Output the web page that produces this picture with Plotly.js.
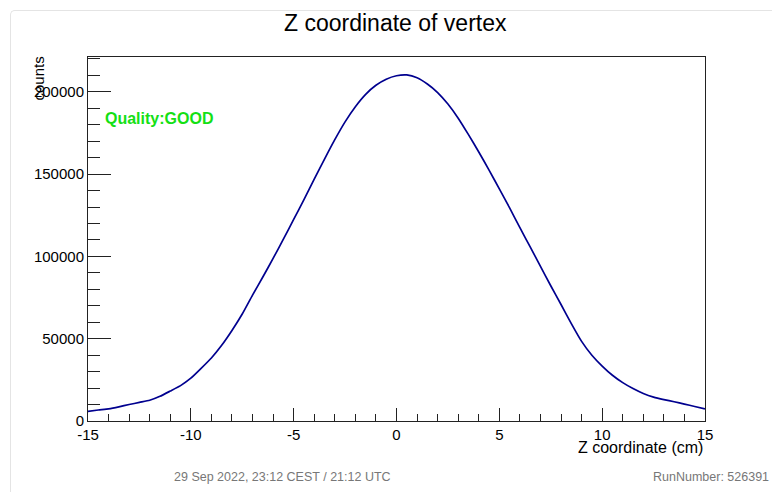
<!DOCTYPE html>
<html>
<head>
<meta charset="utf-8">
<script src="https://cdn.plot.ly/plotly-3.0.1.min.js"></script>
<style>
  html, body { margin: 0; padding: 0; background: #ffffff; }
  #chart { position: absolute; left: 0; top: 0; width: 772px; height: 492px; }
  #frame { position: absolute; left: 10px; top: 10px; width: 780px; height: 500px;
           border-left: 1px solid #e4e4e4; border-top: 1px solid #e4e4e4;
           border-top-left-radius: 5px; pointer-events: none; }
</style>
</head>
<body>
<div id="chart"></div>
<div id="frame"></div>
<script>
// Bin centres (cm) and counts
const zPos = [-15,-14.5,-14,-13.5,-13,-12.5,-12,-11.5,-11,-10.5,-10,-9.5,-9,-8.5,-8,-7.5,-7,-6.5,-6,-5.5,-5,-4.5,-4,-3.5,-3,-2.5,-2,-1.5,-1,-0.5,0,0.5,1,1.5,2,2.5,3,3.5,4,4.5,5,5.5,6,6.5,7,7.5,8,8.5,9,9.5,10,10.5,11,11.5,12,12.5,13,13.5,14,14.5,15];
const counts = [5900,6700,7400,8600,10000,11300,12600,15000,18200,21500,26000,32000,38300,46000,55000,65000,76500,87500,98800,110500,122500,134500,147000,159200,171000,181800,191000,198500,204000,207700,209800,210300,208600,204800,199600,192600,184000,174000,163500,152500,141000,129500,117500,105800,94000,82200,70800,59200,48400,40000,33400,27800,23300,19700,16700,14500,13000,11700,10300,8800,7400];

const xTickVals = [-15,-10,-5,0,5,10,15];
const xTickText = ["-15","-10","-5","0","5","10","15"];
const yTickVals = [0,50000,100000,150000,200000];
const yTickText = ["0","50000","100000","150000","200000"];

const titleText = "Z coordinate of vertex";
const xTitle = "Z coordinate (cm)";
const yTitle = "counts";
const qualityText = "Quality:GOOD";
const dateText = "29 Sep 2022, 23:12 CEST / 21:12 UTC";
const runText = "RunNumber: 526391";

const FONT = "Liberation Sans, Arial, Helvetica, sans-serif";

const trace = {
  x: zPos, y: counts, type: "scatter", mode: "lines",
  line: {color: "#00008f", width: 1.7, shape: "spline", smoothing: 0.5},
  hoverinfo: "x+y"
};

const layout = {
  width: 772, height: 492,
  margin: {l: 88, r: 67, t: 57, b: 71, pad: 0},
  paper_bgcolor: "#ffffff", plot_bgcolor: "#ffffff",
  showlegend: false,
  font: {family: FONT, color: "#000000", size: 15},
  title: {text: titleText, x: 0.512, xanchor: "center", y: 0.953, yanchor: "middle",
          font: {family: FONT, size: 23, color: "#000000"}},
  xaxis: {
    range: [-15, 15], showgrid: false, zeroline: false,
    showline: true, linecolor: "#222222", linewidth: 1, mirror: true,
    ticks: "inside", ticklen: 13, tickwidth: 1, tickcolor: "#222222",
    tickvals: xTickVals, ticktext: xTickText,
    tickfont: {family: FONT, size: 15, color: "#000000"},
    minor: {dtick: 1, ticks: "inside", ticklen: 7, tickwidth: 1, tickcolor: "#222222", showgrid: false}
  },
  yaxis: {
    range: [0, 221200], showgrid: false, zeroline: false,
    showline: true, linecolor: "#222222", linewidth: 1, mirror: true,
    ticks: "inside", ticklen: 23, tickwidth: 1, tickcolor: "#222222",
    tickvals: yTickVals, ticktext: yTickText,
    tickfont: {family: FONT, size: 15, color: "#000000"},
    minor: {dtick: 10000, ticks: "inside", ticklen: 12, tickwidth: 1, tickcolor: "#222222", showgrid: false}
  },
  annotations: [
    {text: xTitle, xref: "paper", yref: "paper", x: 1, y: 0, xanchor: "right", yanchor: "top",
     yshift: -16, showarrow: false, font: {family: FONT, size: 16, color: "#000000"}},
    {text: yTitle, xref: "paper", yref: "paper", x: 0, y: 1, xanchor: "right", yanchor: "top",
     xshift: -40, yshift: 2, textangle: -90, showarrow: false, font: {family: FONT, size: 15, color: "#000000"}},
    {text: "<b>" + qualityText + "</b>", xref: "paper", yref: "paper", x: (103 - 88) / 617, y: 0.83, xanchor: "left", yanchor: "middle",
     showarrow: false, font: {family: FONT, size: 16, color: "#14e014"}},
    {text: dateText, xref: "paper", yref: "paper", x: (282 - 88) / 617, y: 0, xanchor: "center", yanchor: "middle",
     yshift: -56, showarrow: false, font: {family: FONT, size: 12.5, color: "#777777"}},
    {text: runText, xref: "paper", yref: "paper", x: (771 - 88) / 617, y: 0, xanchor: "right", yanchor: "middle",
     yshift: -56, showarrow: false, font: {family: FONT, size: 12.5, color: "#777777"}}
  ]
};

Plotly.newPlot("chart", [trace], layout, {displayModeBar: false, staticPlot: true});
</script>
</body>
</html>
